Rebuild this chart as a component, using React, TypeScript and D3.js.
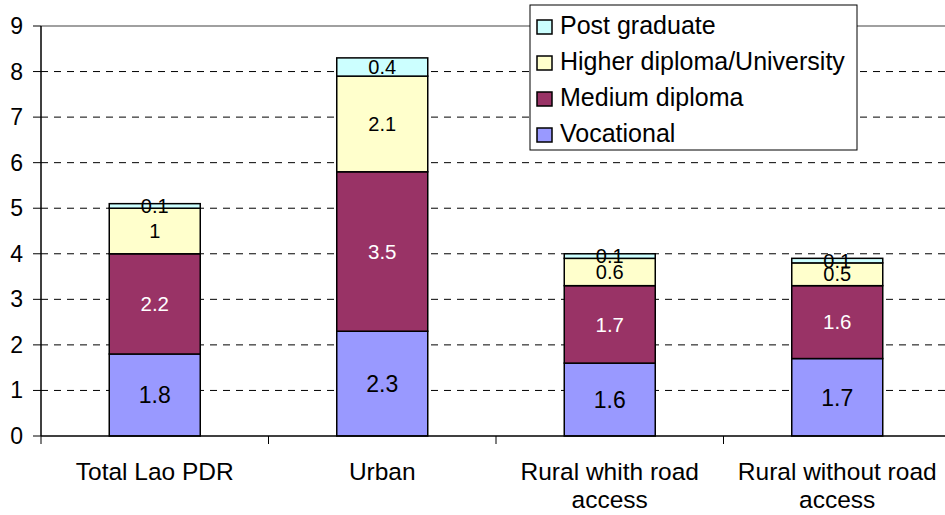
import React from "react";
import * as d3 from "d3";

const categories = [["Total Lao PDR"], ["Urban"], ["Rural whith road", "access"], ["Rural without road", "access"]];
const seriesNames = ["Vocational", "Medium diploma", "Higher diploma/University", "Post graduate"];
const vocational = [1.8, 2.3, 1.6, 1.7];
const medium = [2.2, 3.5, 1.7, 1.6];
const higher = [1, 2.1, 0.6, 0.5];
const post = [0.1, 0.4, 0.1, 0.1];
const colors = ["#9999FF", "#993366", "#FFFFCC", "#CCFFFF"];
const labelColors = ["#000", "#fff", "#000", "#000"];
const labelSizes = [23, 20.5, 20, 20];
const yTicks = [0, 1, 2, 3, 4, 5, 6, 7, 8, 9];

export default function App() {
  const W = 945, H = 515;
  const x0 = 41, x1 = 951, yTop = 26, yBot = 436;
  const font = "Arial, 'Liberation Sans', sans-serif";
  const x = d3.scaleBand<number>().domain([0, 1, 2, 3]).range([x0, x1]).paddingInner(0.6).paddingOuter(0.3);
  const y = d3.scaleLinear().domain([0, 9]).range([yBot, yTop]);
  const series = [vocational, medium, higher, post];
  const rows = categories.map((_, i) => ({ i, v0: vocational[i], v1: medium[i], v2: higher[i], v3: post[i] }));
  const stack = d3.stack<any>().keys(["v0", "v1", "v2", "v3"])(rows);
  const step = (x1 - x0) / 4;
  return (
    <svg width={W} height={H} style={{ position: "absolute", left: 0, top: 0, background: "#fff" }} fontFamily={font}>
      {yTicks.map((t) => (
        <g key={t}>
          {t > 0 && t < 9 && <line x1={x0} x2={x1} y1={y(t)} y2={y(t)} stroke="#000" strokeDasharray="7,6" strokeWidth={1} />}
          <line x1={x0 - 8} x2={x0} y1={y(t)} y2={y(t)} stroke="#000" />
          <text x={23} y={y(t) + 8} fontSize={23} textAnchor="end">{t}</text>
        </g>
      ))}
      <line x1={x0} x2={x1} y1={yTop} y2={yTop} stroke="#808080" strokeWidth={1.5} />
      {stack.map((layer, si) => (
        <g key={si}>
          {layer.map((d, ci) => (
            <rect key={ci} x={x(ci)} y={y(d[1])} width={x.bandwidth()} height={y(d[0]) - y(d[1])} fill={colors[si]} stroke="#000" strokeWidth={1.5} />
          ))}
        </g>
      ))}
      {stack.map((layer, si) => (
        <g key={"l" + si}>
          {layer.map((d, ci) => (
            <text key={ci} x={(x(ci) as number) + x.bandwidth() / 2} y={y((d[0] + d[1]) / 2) + labelSizes[si] * 0.36} fontSize={labelSizes[si]} textAnchor="middle" fill={labelColors[si]}>
              {series[si][ci]}
            </text>
          ))}
        </g>
      ))}
      <line x1={x0} x2={x0} y1={yTop} y2={yBot} stroke="#000" strokeWidth={1.5} />
      <line x1={x0} x2={x1} y1={yBot} y2={yBot} stroke="#000" strokeWidth={1.5} />
      {[0, 1, 2, 3, 4].map((k) => (
        <line key={k} x1={x0 + k * step} x2={x0 + k * step} y1={yBot} y2={yBot + 8} stroke="#000" />
      ))}
      {categories.map((lines, ci) => (
        <text key={ci} x={(x(ci) as number) + x.bandwidth() / 2} y={480} fontSize={24.5} textAnchor="middle">
          {lines.map((l, li) => (
            <tspan key={li} x={(x(ci) as number) + x.bandwidth() / 2} dy={li === 0 ? 0 : 28}>{l}</tspan>
          ))}
        </text>
      ))}
      <g>
        <rect x={530} y={5} width={327} height={145} fill="#fff" stroke="#000" strokeWidth={1} />
        {[3, 2, 1, 0].map((si, k) => (
          <g key={si}>
            <rect x={537} y={20 + k * 36} width={15} height={14} fill={colors[si]} stroke="#000" strokeWidth={1.5} />
            <text x={560} y={34 + k * 36} fontSize={25}>{seriesNames[si]}</text>
          </g>
        ))}
      </g>
    </svg>
  );
}
